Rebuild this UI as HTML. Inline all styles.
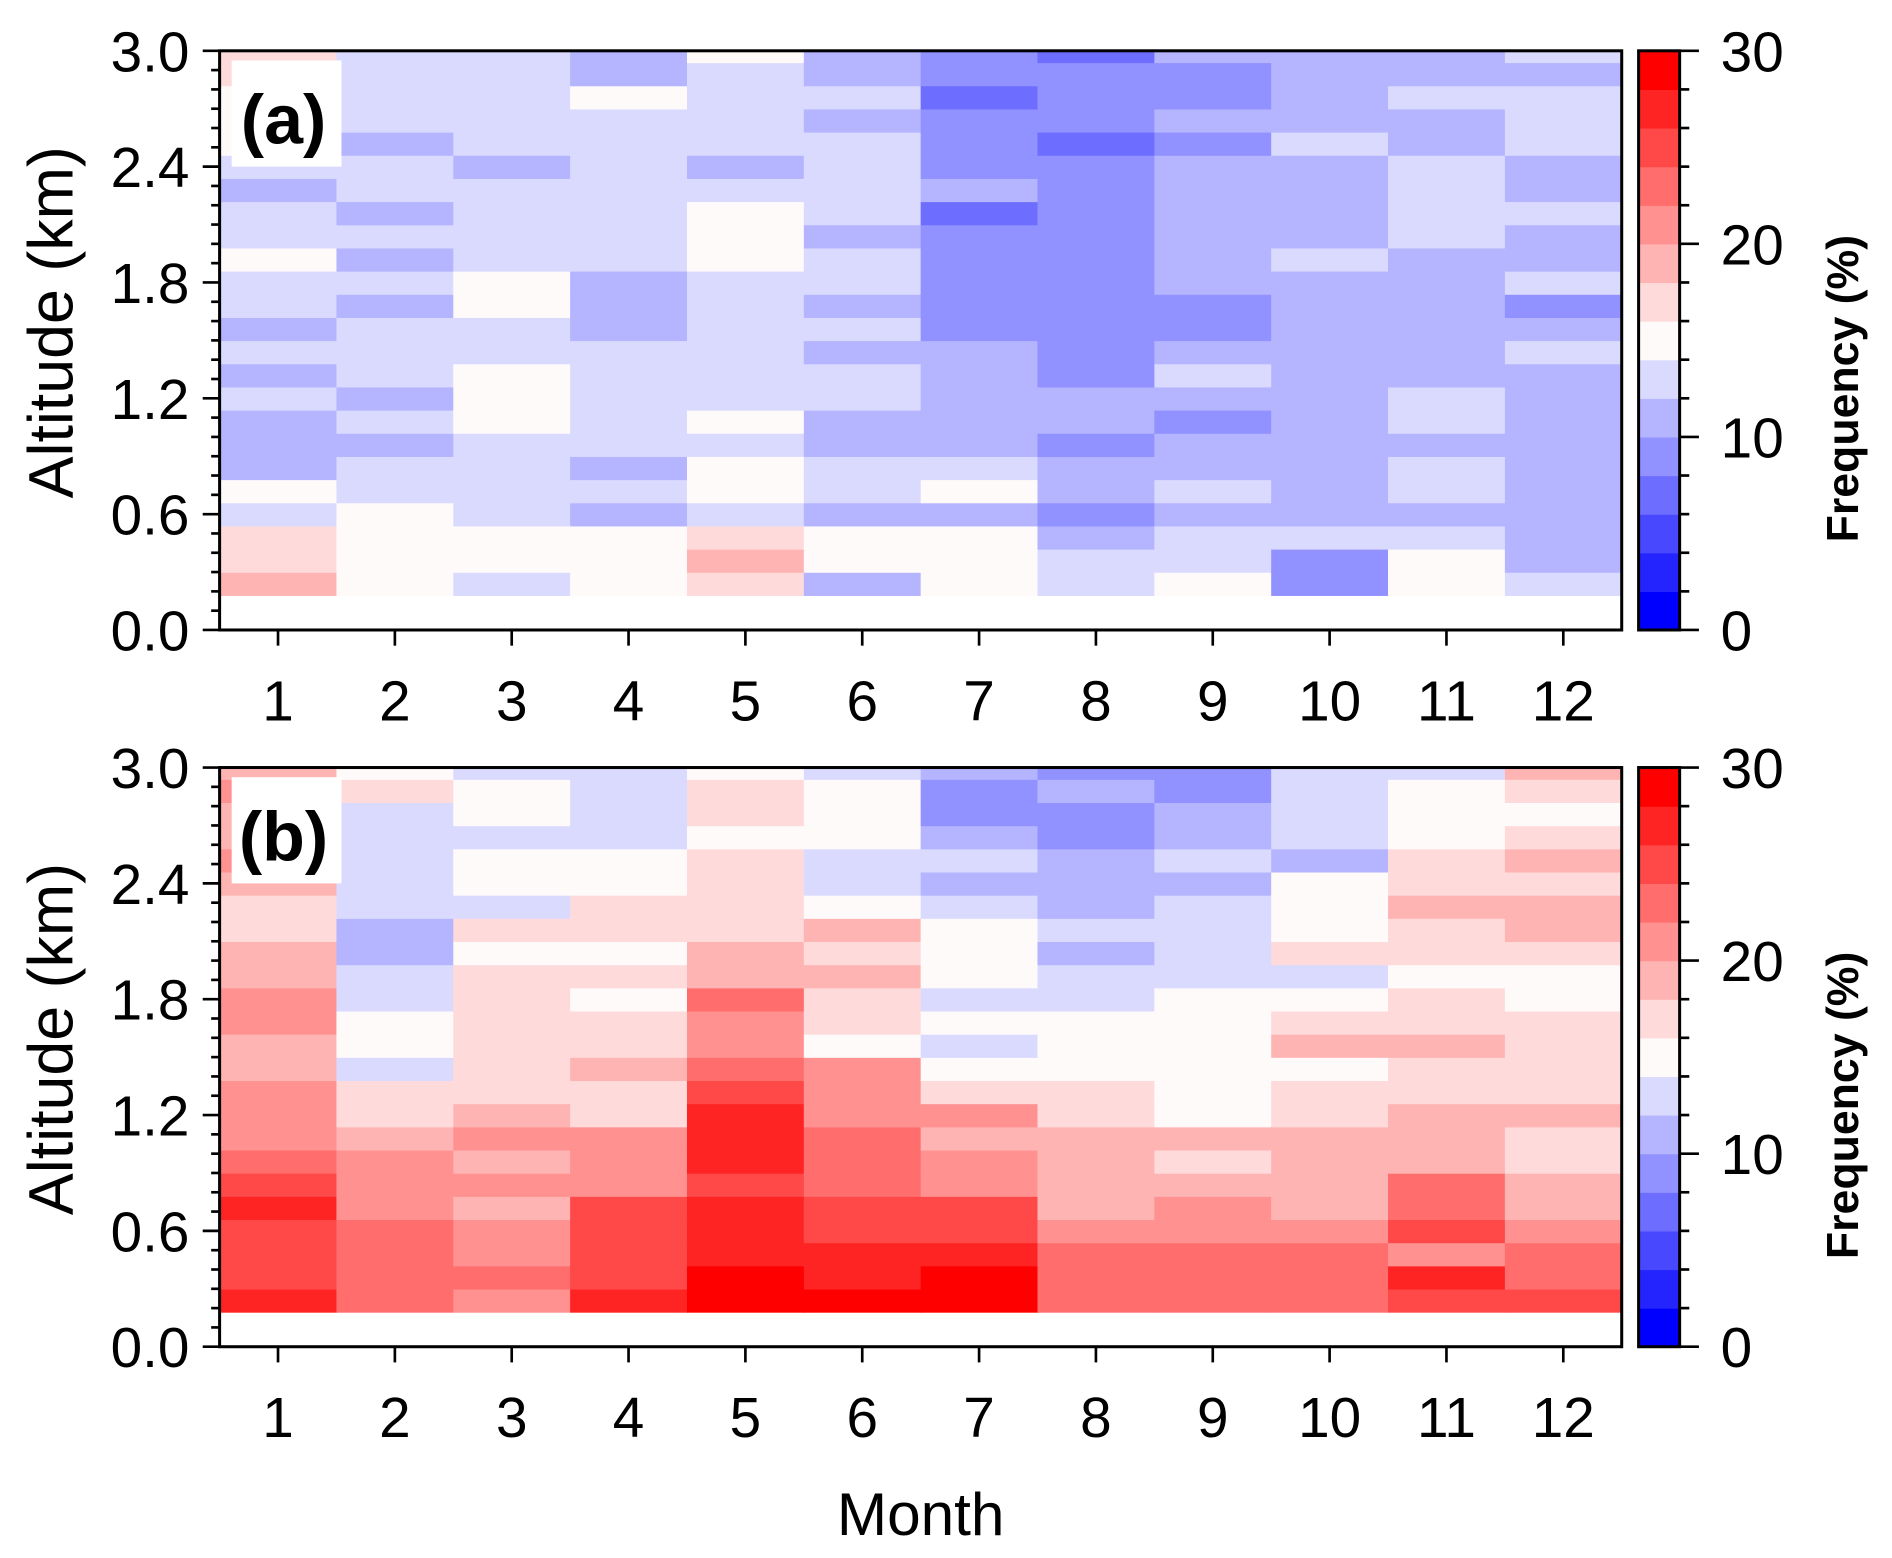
<!DOCTYPE html>
<html><head><meta charset="utf-8"><style>
html,body{margin:0;padding:0;background:#fff;}
svg{display:block;}
text{font-family:"Liberation Sans",Arial,sans-serif;fill:#000;}
</style></head><body>
<svg id="fig" width="1892" height="1558" viewBox="0 0 1568 1291" xmlns="http://www.w3.org/2000/svg"></svg>
<script>
const months = ["1","2","3","4","5","6","7","8","9","10","11","12"];
const altCenters = [0.24,0.36,0.48,0.60,0.72,0.84,0.96,1.08,1.20,1.32,1.44,1.56,1.68,1.80,1.92,2.04,2.16,2.28,2.40,2.52,2.64,2.76,2.88,3.00];
const yTicks = [0.0,0.6,1.2,1.8,2.4,3.0];
const cbTicks = [0,10,20,30];
// frequency (%) per month, rows bottom->top (altCenters)
const freqA = [
[19,17,17,13,15,11,11,11,13,11,13,11,13,13,15,13,13,11,13,15,15,15,17,17],
[15,15,15,15,13,13,11,13,11,13,13,13,11,13,11,13,11,13,13,11,13,13,13,13],
[13,15,15,13,13,13,13,15,15,15,13,13,15,15,13,13,13,13,11,13,13,13,13,13],
[15,15,15,11,13,11,13,13,13,13,13,11,11,11,13,13,13,13,13,13,13,15,11,11],
[17,19,17,13,15,15,13,15,13,13,13,13,13,13,15,15,15,13,11,13,13,13,13,15],
[11,15,15,11,13,13,11,11,13,13,11,13,11,13,13,11,13,13,13,13,11,13,11,11],
[15,15,15,11,15,13,11,11,11,11,11,9,9,9,9,9,7,11,9,9,9,7,9,9],
[13,13,11,9,11,11,9,11,11,9,9,9,9,9,9,9,9,9,9,7,9,9,9,7],
[15,13,13,11,13,11,11,9,11,13,11,9,9,11,11,11,11,11,11,9,11,9,9,11],
[9,9,13,11,11,11,11,11,11,11,11,11,11,11,13,11,11,11,11,13,11,11,11,11],
[15,15,13,11,13,13,11,13,13,11,11,11,11,11,11,13,13,13,13,11,11,13,11,11],
[13,11,11,11,11,11,11,11,11,11,13,11,9,13,11,11,13,11,11,13,13,13,11,13]
];
const freqB = [
[27,25,25,25,27,25,23,21,21,21,19,19,21,21,19,19,17,17,19,21,19,19,21,19],
[23,23,23,23,21,21,21,19,17,17,13,15,15,13,13,11,11,13,13,13,13,13,17,15],
[21,23,21,21,19,21,19,21,19,17,17,17,17,17,17,15,17,13,15,15,13,15,15,13],
[27,25,25,25,25,21,21,21,17,17,19,17,17,15,17,15,17,17,15,15,13,13,13,13],
[29,29,27,27,27,25,27,27,27,25,23,21,21,23,19,19,17,17,17,17,15,17,17,15],
[29,27,27,25,25,23,23,23,21,21,21,15,17,17,19,17,19,15,13,13,15,15,15,13],
[29,29,27,25,25,21,21,19,21,17,15,13,15,13,15,15,15,13,11,13,11,9,9,11],
[23,23,23,21,19,19,19,19,17,17,15,15,15,13,13,11,13,11,11,11,9,9,11,9],
[23,23,23,21,21,19,17,19,15,15,15,15,15,15,13,13,13,13,11,13,11,11,9,9],
[23,23,23,21,19,19,19,19,17,17,15,19,17,15,13,17,15,15,15,11,13,13,13,13],
[25,27,21,25,23,23,19,19,19,17,17,19,17,17,15,17,17,19,17,17,15,15,15,13],
[25,23,23,21,19,19,17,17,19,17,17,17,17,15,15,17,19,19,17,19,17,15,17,19]
];
const palette = ["#0000ff","#2424ff","#4848ff","#6d6dff","#9191ff","#b4b4ff","#dadaff","#fffafa","#ffdada","#ffb4b4","#ff9191","#ff6d6d","#ff4848","#ff2424","#ff0000"];

const NS="http://www.w3.org/2000/svg";
const svg=document.getElementById('fig');
function mk(tag,attrs,parent){const e=document.createElementNS(NS,tag);for(const k in attrs)e.setAttribute(k,attrs[k]);(parent||svg).appendChild(e);return e;}
const X0=182,X1=1344;
const colW=(X1-X0)/months.length;
const xScale=i=>X0+colW*(i+0.5);
const cellH=0.12;
function colorFor(v){let k=Math.floor(v/2);if(k<0)k=0;if(k>14)k=14;return palette[k];}

function panel(top,bottom,data,label,pname){
  const g=mk('g',{});
  
  
  const yS=v=>bottom-(v/3.0)*(bottom-top);
  mk('rect',{x:X0,y:top,width:X1-X0,height:bottom-top,fill:'#fff'},g);
  for(let m=0;m<data.length;m++){
    for(let r=0;r<data[m].length;r++){
      const c=altCenters[r];
      const y1=yS(Math.min(3.0,c+cellH/2)), y2=yS(c-cellH/2);
      const rc=mk('rect',{x:(X0+colW*m).toFixed(2),y:y1.toFixed(2),width:(colW+0.6).toFixed(2),height:(y2-y1+0.6).toFixed(2),fill:colorFor(data[m][r])},g);
      
      
    }
  }
  const fr=mk('rect',{x:X0,y:top,width:X1-X0,height:bottom-top,fill:'none',stroke:'#000','stroke-width':2.5},g);
  
  
  for(let i=0;i<=30;i++){
    const y=yS(i/10);const major=(i%6===0);
    mk('line',{x1:X0,x2:X0-(major?14:7),y1:y,y2:y,stroke:'#000','stroke-width':2.2},g);
  }
  for(const t of yTicks){
    const tx=mk('text',{x:157,y:yS(t)+17,'text-anchor':'end','font-size':47},g);
    tx.textContent=t.toFixed(1);
    
    
  }
  for(let m=0;m<months.length;m++){
    const x=xScale(m);
    mk('line',{x1:x,x2:x,y1:bottom,y2:bottom+13,stroke:'#000','stroke-width':2.2},g);
    const tx=mk('text',{x:x,y:bottom+75,'text-anchor':'middle','font-size':47},g);
    tx.textContent=months[m];
    
    
  }
  const yt=mk('text',{x:0,y:0,'text-anchor':'middle','font-size':52,transform:'translate(60,'+((top+bottom)/2-15)+') rotate(-90)'},g);
  yt.textContent='Altitude (km)';
  
  
  const lb=mk('rect',{x:192,y:top+8,width:91,height:88,fill:'#fff'},g);
  
  
  const lt=mk('text',{x:235,y:top+77,'text-anchor':'middle','font-size':58,'font-weight':'bold','font-family':'"DejaVu Sans","Liberation Sans",sans-serif'},g);
  lt.textContent=label;
  
  
  const CX0=1358,CX1=1392;
  const cS=v=>bottom-(v/30)*(bottom-top);
  for(let k=0;k<15;k++){
    const b=mk('rect',{x:CX0,y:cS(2*k+2),width:CX1-CX0,height:cS(2*k)-cS(2*k+2)+0.5,fill:palette[k]},g);
    
    
  }
  const cf=mk('rect',{x:CX0,y:top,width:CX1-CX0,height:bottom-top,fill:'none',stroke:'#000','stroke-width':2.5},g);
  
  
  for(let k=0;k<=15;k++){
    const v=2*k;
    mk('line',{x1:CX1,x2:CX1+(v%10===0?16:8),y1:cS(v),y2:cS(v),stroke:'#000','stroke-width':2.2},g);
  }
  for(const t of cbTicks){
    const tx=mk('text',{x:1426,y:cS(t)+17,'font-size':47},g);
    tx.textContent=String(t);
    
    
  }
  const ct=mk('text',{x:0,y:0,'text-anchor':'middle','font-size':37,'font-weight':'bold',transform:'translate(1540,'+((top+bottom)/2+40)+') rotate(-90)'},g);
  ct.textContent='Frequency (%)';
  
  
}
panel(42,522,freqA,'(a)','panel-a');
panel(636,1116,freqB,'(b)','panel-b');
const xt=mk('text',{x:763,y:1272,'text-anchor':'middle','font-size':50});
xt.textContent='Month';


</script>
</body></html>
